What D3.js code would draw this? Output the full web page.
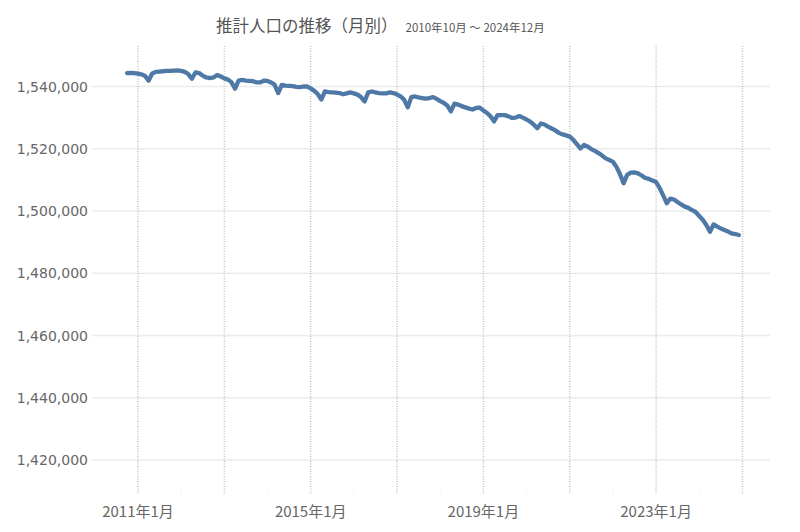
<!DOCTYPE html>
<html>
<head>
<meta charset="utf-8">
<script src="https://cdn.jsdelivr.net/npm/d3@7/dist/d3.min.js"></script>
<style>
  body { margin: 0; background: #fff; }
  .title { font-family: "Noto Sans CJK JP", sans-serif; fill: #555; }
  .yLabel { font-family: "DejaVu Sans", sans-serif; font-size: 14px; fill: #666; }
  .xLabel { font-family: "Noto Sans CJK JP", sans-serif; font-size: 15px; fill: #666; }
</style>
</head>
<body>
<script>
// monthly estimated population, 2010-10 .. 2024-12
var firstMonth = "2010-10"
var population = [
  1544300, 1544400, 1544300,
  1544100, 1543900, 1543400, 1541900, 1544200, 1544700, 1544800, 1544900, 1545000, 1545000, 1545100, 1545200,
  1545000, 1544700, 1544000, 1542500, 1544500, 1544300, 1543500, 1542900, 1542700, 1542900, 1543700, 1543200,
  1542600, 1542200, 1541400, 1539300, 1541900, 1542100, 1541900, 1541800, 1541700, 1541300, 1541300, 1541900,
  1541800, 1541300, 1540600, 1537900, 1540500, 1540300, 1540200, 1540100, 1539900, 1539800, 1540000, 1540000,
  1539400, 1538600, 1537600, 1535800, 1538400, 1538200, 1538100, 1538000, 1537900, 1537500, 1537800, 1538100,
  1537800, 1537400, 1536600, 1535200, 1538100, 1538400, 1538100, 1537900, 1537800, 1537800, 1538100, 1537900,
  1537400, 1536800, 1535800, 1533300, 1536600, 1536800, 1536500, 1536300, 1536100, 1536300, 1536600, 1536000,
  1535300, 1534700, 1533900, 1532000, 1534500, 1534200, 1533700, 1533300, 1532900, 1532600, 1533100, 1533200,
  1532300, 1531500, 1530500, 1528800, 1530800, 1530800, 1530800, 1530400, 1529900, 1530000, 1530500, 1530000,
  1529400, 1528700, 1527800, 1526600, 1528100, 1527800, 1527100, 1526500, 1525900, 1525100, 1524600, 1524300,
  1523900, 1522800, 1521500, 1520100, 1521200, 1520700, 1519900, 1519300, 1518600, 1517800, 1516900, 1516400,
  1515800, 1514100, 1511900, 1508900, 1511600, 1512300, 1512400, 1512100, 1511400, 1510600, 1510300, 1509800,
  1509300, 1507300, 1505100, 1502500, 1504000, 1503700, 1502900, 1502100, 1501400, 1501000, 1500300, 1499700,
  1498400, 1497100, 1495500, 1493300, 1495700, 1495000, 1494400, 1493900, 1493400, 1492800, 1492600, 1492300
]
var yTicks = [1420000, 1440000, 1460000, 1480000, 1500000, 1520000, 1540000]
var gridYears = [2011, 2013, 2015, 2017, 2019, 2021, 2023, 2025]
var labelYears = [2011, 2015, 2019, 2023]
var minorYears = [2011, 2012, 2013, 2014, 2015, 2016, 2017, 2018, 2019, 2020, 2021, 2022, 2023, 2024, 2025]
var titleText = "推計人口の推移（月別）"
var subText = "2010年10月 ～ 2024年12月"

var width = 800, height = 532,
    plotTop = 46, plotBottom = 494, plotLeft = 92, plotRight = 770

var parseMonth = d3.timeParse("%Y-%m")
var start = parseMonth(firstMonth)
var data = population.map(function(v, i) {
  return { date: d3.timeMonth.offset(start, i), value: v }
})

var x = d3.scaleTime()
    .domain([new Date(2011, 0, 1), new Date(2025, 0, 1)])
    .range([138, 742.5])

var y = d3.scaleLinear()
    .domain([1420000, 1540000])
    .range([460, 86.5])

var svg = d3.select("body").append("svg")
    .attr("width", width)
    .attr("height", height)

// horizontal grid
svg.selectAll(".hgrid")
    .data(yTicks)
  .enter().append("line")
    .attr("class", "hgrid")
    .attr("x1", plotLeft)
    .attr("x2", plotRight)
    .attr("y1", function(d) { return y(d) })
    .attr("y2", function(d) { return y(d) })
    .style("stroke", "#ebebeb")
    .style("stroke-width", 1.5)

// vertical dotted grid
svg.selectAll(".vgrid")
    .data(gridYears)
  .enter().append("line")
    .attr("class", "vgrid")
    .attr("x1", function(d) { return x(new Date(d, 0, 1)) })
    .attr("x2", function(d) { return x(new Date(d, 0, 1)) })
    .attr("y1", plotTop)
    .attr("y2", plotBottom)
    .style("stroke", "#c4c4c4")
    .style("stroke-width", 1.5)
    .style("stroke-dasharray", "1,1.5")

// yearly minor ticks along the bottom
svg.selectAll(".minor")
    .data(minorYears)
  .enter().append("line")
    .attr("class", "minor")
    .attr("x1", function(d) { return x(new Date(d, 0, 1)) })
    .attr("x2", function(d) { return x(new Date(d, 0, 1)) })
    .attr("y1", plotBottom - 5)
    .attr("y2", plotBottom)
    .style("stroke", "#e4e4e4")
    .style("stroke-width", 1)
    .style("stroke-dasharray", "1,1.5")

svg.selectAll(".yLabel")
    .data(yTicks)
  .enter().append("text")
    .attr("class", "yLabel")
    .attr("x", 88)
    .attr("y", function(d) { return y(d) })
    .attr("dy", "0.36em")
    .style("text-anchor", "end")
    .text(function(d) { return d3.format(",")(d) })

svg.selectAll(".xLabel")
    .data(labelYears)
  .enter().append("text")
    .attr("class", "xLabel")
    .attr("x", function(d) { return x(new Date(d, 0, 1)) })
    .attr("y", 517)
    .style("text-anchor", "middle")
    .text(function(d) { return d + "年1月" })

var line = d3.line()
    .x(function(d) { return x(d.date) })
    .y(function(d) { return y(d.value) })

svg.append("path")
    .datum(data)
    .attr("d", line)
    .style("fill", "none")
    .style("stroke", "#4e79a7")
    .style("stroke-width", 4.3)
    .style("stroke-linejoin", "round")
    .style("stroke-linecap", "round")

var title = svg.append("text")
    .attr("class", "title")
    .attr("x", 216)
    .attr("y", 32)
title.append("tspan")
    .style("font-size", "16.5px")
    .text(titleText)
title.append("tspan")
    .attr("dx", 8)
    .style("font-size", "11.5px")
    .text(subText)
</script>
</body>
</html>
